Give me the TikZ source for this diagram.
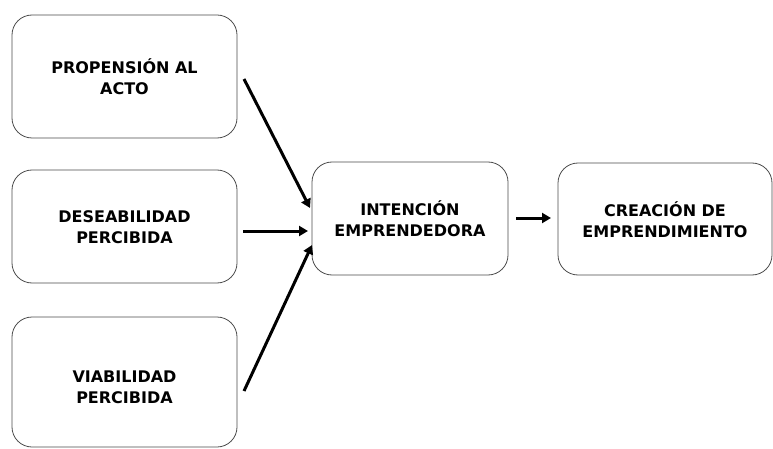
\documentclass[tikz,border=0pt]{standalone}
\usepackage{fontspec}
\setmainfont{DejaVu Sans}
\usetikzlibrary{arrows.meta}
\begin{document}
\begin{tikzpicture}[x=1pt,y=-1pt,
  box/.style={draw=black!70,line width=0.8pt,rounded corners=20pt,fill=white},
  lbl/.style={font=\fontsize{16}{21}\selectfont\bfseries,align=center},
  arr/.style={line width=3pt,-{Triangle[length=9pt,width=10pt]}}]
\useasboundingbox (0,0) rectangle (773,449);
\draw[box] (12,15) rectangle (237,138);
\node[lbl] (a) at (124.5,77) {PROPENSIÓN AL\\ACTO};
\draw[box] (12,170) rectangle (237,283);
\node[lbl] (b) at (124.5,227) {DESEABILIDAD\\PERCIBIDA};
\draw[box] (12,317) rectangle (237,447);
\node[lbl] (c) at (124.5,387) {VIABILIDAD\\PERCIBIDA};
\draw[box] (312,162) rectangle (508,275);
\node[lbl] (d) at (410,219) {INTENCIÓN\\EMPRENDEDORA};
\draw[box] (558,163) rectangle (772,275);
\node[lbl] (e) at (665,219.5) {CREACIÓN DE\\EMPRENDIMIENTO};
\coordinate (a1) at (244,79);
\coordinate (a2) at (310,208);
\coordinate (b1) at (243,231);
\coordinate (b2) at (308,231);
\coordinate (c1) at (244,391);
\coordinate (c2) at (312,245);
\coordinate (d1) at (516,218);
\coordinate (d2) at (551,218);
\draw[arr] (a1) -- (a2);
\draw[arr] (b1) -- (b2);
\draw[arr] (c1) -- (c2);
\draw[arr] (d1) -- (d2);
\end{tikzpicture}
\end{document}
